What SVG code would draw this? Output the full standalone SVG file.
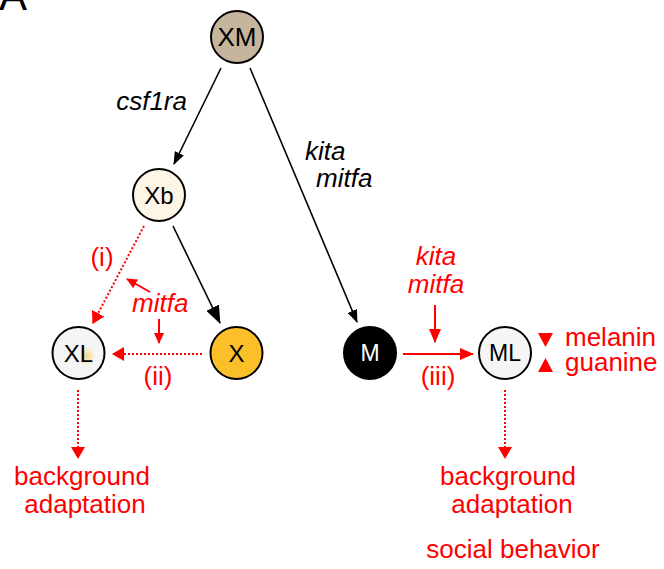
<svg xmlns="http://www.w3.org/2000/svg" width="664" height="569" viewBox="0 0 664 569">
<style>
.node{stroke:#000;stroke-width:2}
.lbl{font-family:"Liberation Sans",Arial,sans-serif;text-anchor:middle}
.t{font-family:"Liberation Sans",Arial,sans-serif;font-size:26px}
.it{font-style:italic}
.red{fill:#ff0000}
.blk{stroke:#000;stroke-width:1.6;fill:none}
.rs{stroke:#ff0000;stroke-width:2;fill:none}
.rd{stroke:#ff0000;stroke-width:2;fill:none;stroke-dasharray:2 2}
</style>
<defs>
<marker id="ab" markerUnits="userSpaceOnUse" markerWidth="13" markerHeight="10" refX="12" refY="5" orient="auto"><path d="M0,0 L13,5 L0,10 z" fill="#000"/></marker>
<marker id="abL" markerUnits="userSpaceOnUse" markerWidth="18" markerHeight="14" refX="17" refY="7" orient="auto"><path d="M0,0 L18,7 L0,14 z" fill="#000"/></marker>
<marker id="ar" markerUnits="userSpaceOnUse" markerWidth="14" markerHeight="12" refX="13" refY="6" orient="auto"><path d="M0,0 L14,6 L0,12 z" fill="#ff0000"/></marker>
<marker id="ars" markerUnits="userSpaceOnUse" markerWidth="11" markerHeight="10" refX="10" refY="5" orient="auto"><path d="M0,0 L11,5 L0,10 z" fill="#ff0000"/></marker>
<marker id="ard" markerUnits="userSpaceOnUse" markerWidth="12" markerHeight="14" refX="11" refY="7" orient="auto"><path d="M0,0 L12,7 L0,14 z" fill="#ff0000"/></marker>
<radialGradient id="yl" cx="0.5" cy="0.5" r="0.5"><stop offset="0" stop-color="#fbbf2a" stop-opacity="0.55"/><stop offset="1" stop-color="#fbbf2a" stop-opacity="0"/></radialGradient>
</defs>

<text x="-1" y="10" style="font-family:'Liberation Sans',Arial,sans-serif;font-size:42px">A</text>

<g id="connectors">
<line class="blk" x1="221" y1="68" x2="174" y2="164" marker-end="url(#ab)"/>
<line class="blk" x1="250" y1="68" x2="357" y2="322" marker-end="url(#ab)"/>
<line class="blk" x1="173" y1="226" x2="220" y2="323" stroke-width="2" marker-end="url(#abL)"/>
<line class="rd" x1="144" y1="226" x2="93" y2="323" marker-end="url(#ard)"/>
<line class="rd" x1="202" y1="354" x2="113" y2="354" marker-end="url(#ard)"/>
<line class="rd" x1="78" y1="390" x2="78" y2="458" marker-end="url(#ard)"/>
<line class="rd" x1="505" y1="390" x2="505" y2="458" marker-end="url(#ard)"/>
<line class="rs" x1="150" y1="292" x2="127" y2="279" marker-end="url(#ars)"/>
<line class="rs" x1="159" y1="319" x2="159" y2="343" marker-end="url(#ars)"/>
<line class="rs" x1="435" y1="305" x2="435" y2="342" marker-end="url(#ar)"/>
<line class="rs" x1="403" y1="354" x2="473" y2="354" marker-end="url(#ar)"/>
</g>

<g id="XM"><circle class="node" cx="237" cy="37" r="26" fill="#c4b59c"/><text class="lbl" x="237" y="46" font-size="26">XM</text></g>
<g id="Xb"><circle class="node" cx="159" cy="195" r="26" fill="#fdf6e6"/><text class="lbl" x="159" y="204" font-size="24">Xb</text></g>
<g id="XL"><circle class="node" cx="78.5" cy="353" r="26" fill="#f5f5f5"/><ellipse cx="87" cy="356" rx="8" ry="10" fill="url(#yl)"/><text class="lbl" x="78.5" y="362" font-size="24">XL</text></g>
<g id="X"><circle class="node" cx="236.5" cy="353" r="26" fill="#fbbf2a"/><text class="lbl" x="236.5" y="362" font-size="24">X</text></g>
<g id="M"><circle class="node" cx="370" cy="353" r="26" fill="#000"/><text class="lbl" x="370" y="361" font-size="23" fill="#fff">M</text></g>
<g id="ML"><circle class="node" cx="505" cy="353" r="26" fill="#f5f5f5"/><text class="lbl" x="505" y="361" font-size="23">ML</text></g>

<g id="labels">
<text class="t it" x="187" y="110" text-anchor="end">csf1ra</text>
<text class="t it" x="305" y="160">kita</text>
<text class="t it" x="316" y="187">mitfa</text>
<text class="t red" x="102" y="266" text-anchor="middle" font-size="24">(i)</text>
<text class="t it red" x="132" y="312">mitfa</text>
<text class="t red" x="158" y="385" text-anchor="middle" font-size="24">(ii)</text>
<text class="t it red" x="436" y="265" text-anchor="middle">kita</text>
<text class="t it red" x="436" y="293" text-anchor="middle">mitfa</text>
<text class="t red" x="438" y="385" text-anchor="middle" font-size="24">(iii)</text>
<path d="M538,333 L553,333 L545.5,347 z" fill="#ff0000"/>
<path d="M538,372 L553,372 L545.5,358 z" fill="#ff0000"/>
<text class="t red" x="565" y="346">melanin</text>
<text class="t red" x="565" y="371">guanine</text>
<text class="t red" x="82" y="485" text-anchor="middle">background</text>
<text class="t red" x="85" y="513" text-anchor="middle">adaptation</text>
<text class="t red" x="508" y="485" text-anchor="middle">background</text>
<text class="t red" x="512" y="513" text-anchor="middle">adaptation</text>
<text class="t red" x="513" y="558" text-anchor="middle">social behavior</text>
</g>
</svg>
